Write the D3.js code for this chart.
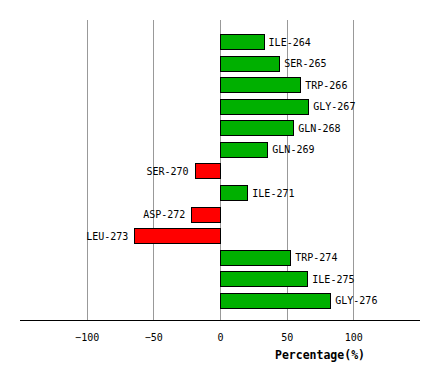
<!DOCTYPE html>
<html>
<head>
<meta charset="utf-8">
<script src="https://cdn.jsdelivr.net/npm/d3@7"></script>
<style>
    body { margin: 0; background: #fff; }
    text { font-family: "DejaVu Sans Mono", monospace; }
</style>
</head>
<body>
<div id="chart"></div>
<script>

const residues = ["ILE-264", "SER-265", "TRP-266", "GLY-267", "GLN-268", "GLN-269", "SER-270",
    "ILE-271", "ASP-272", "LEU-273", "TRP-274", "ILE-275", "GLY-276"];
const percentages = [32.7, 44.5, 60.2, 66.2, 55, 35.5, -19, 20.5, -21.5, -64.2, 52.7, 65.5, 82.7];
const tickValues = [-100, -50, 0, 50, 100];

const width = 440;
const height = 380;

const svg = d3.select("#chart")
    .append("svg")
    .attr("width", width)
    .attr("height", height);

const x = d3.scaleLinear()
    .domain([-150, 150])
    .range([20, 420]);

const y = d3.scaleBand()
    .domain(residues)
    .range([21, 321])
    .paddingInner(0.3)
    .paddingOuter(0.62);

// grid lines
svg.selectAll("line.grid")
    .data(tickValues)
    .enter()
    .append("line")
    .attr("class", "grid")
    .attr("x1", d => Math.round(x(d)) + 0.5)
    .attr("x2", d => Math.round(x(d)) + 0.5)
    .attr("y1", 20)
    .attr("y2", 320)
    .attr("stroke", "#999")
    .attr("stroke-width", 1);

// bars
svg.selectAll("rect.bar")
    .data(residues)
    .enter()
    .append("rect")
    .attr("class", "bar")
    .attr("x", (d, i) => Math.round(x(Math.min(0, percentages[i]))) + 0.5)
    .attr("y", d => Math.round(y(d)) + 0.5)
    .attr("width", (d, i) => Math.round(Math.abs(x(percentages[i]) - x(0))))
    .attr("height", Math.round(y.bandwidth()))
    .attr("fill", (d, i) => percentages[i] >= 0 ? "#00b000" : "#ff0000")
    .attr("stroke", "#000")
    .attr("stroke-width", 1);

// bar labels
svg.selectAll("text.label")
    .data(residues)
    .enter()
    .append("text")
    .attr("class", "label")
    .attr("x", (d, i) => percentages[i] >= 0 ? x(percentages[i]) + 5 : x(percentages[i]) - 6)
    .attr("y", d => y(d) + y.bandwidth() / 2 + 4)
    .attr("text-anchor", (d, i) => percentages[i] >= 0 ? "start" : "end")
    .attr("font-size", 10)
    .attr("fill", "#000")
    .text(d => d);

// x axis
const axis = d3.axisBottom(x)
    .tickValues(tickValues)
    .tickSize(0)
    .tickPadding(14);

const gx = svg.append("g")
    .attr("transform", "translate(0,320)")
    .call(axis);

gx.select(".domain")
    .attr("stroke", "#000")
    .attr("d", "M20,0.5H420");

gx.selectAll("text")
    .attr("font-family", "DejaVu Sans Mono, monospace")
    .attr("font-size", 10)
    .attr("fill", "#000");

svg.append("text")
    .attr("x", 320)
    .attr("y", 359)
    .attr("text-anchor", "middle")
    .attr("font-size", 11.5)
    .attr("font-weight", "bold")
    .text("Percentage(%)");

</script>
</body>
</html>
